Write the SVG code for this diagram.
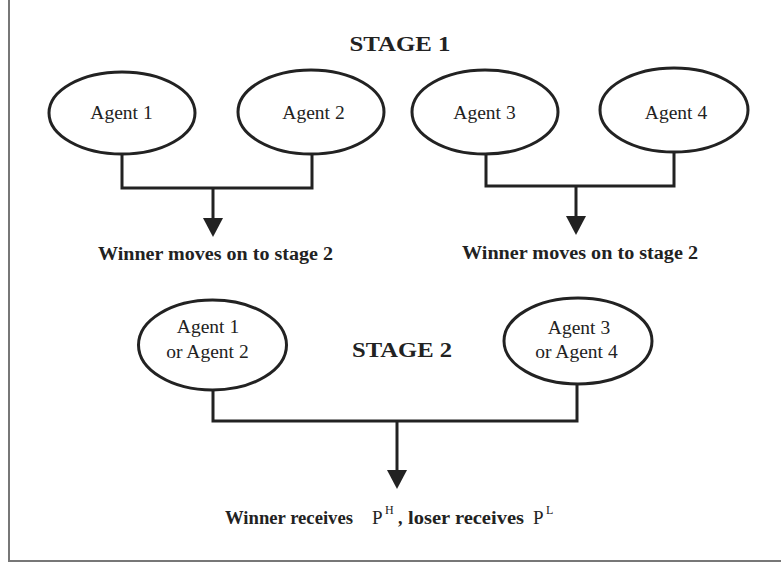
<svg xmlns="http://www.w3.org/2000/svg" width="781" height="565" viewBox="0 0 781 565">
<style>
.node{fill:#fff;stroke:#222;stroke-width:3}
.conn{fill:none;stroke:#222;stroke-width:3}
.lbl{font-family:"Liberation Serif",serif;font-size:19.5px;fill:#222;text-anchor:middle}
.bold{font-family:"Liberation Serif",serif;font-weight:bold;fill:#222}
.reg{font-family:"Liberation Serif",serif;font-weight:normal;fill:#222}
.frame{stroke:#777;stroke-width:2;fill:none}
</style>
<defs>
<marker id="arr" viewBox="0 0 19 20" refX="2" refY="10" markerWidth="19" markerHeight="20" markerUnits="userSpaceOnUse" orient="auto">
<path d="M0,0 L19,10 L0,20 z" fill="#222"/>
</marker>
</defs>
<rect width="781" height="565" fill="#fff"/>
<path class="frame" d="M9,0 V561 H781"/>
<text class="bold" x="400" y="51" font-size="21" text-anchor="middle" textLength="101" lengthAdjust="spacingAndGlyphs">STAGE  1</text>
<text class="bold" x="402" y="357" font-size="21" text-anchor="middle" textLength="100" lengthAdjust="spacingAndGlyphs">STAGE  2</text>
<g id="agent1"><ellipse class="node" cx="122" cy="113" rx="73" ry="41"/><text class="lbl" x="121.5" y="119">Agent 1</text></g>
<g id="agent2"><ellipse class="node" cx="311" cy="112" rx="73" ry="42"/><text class="lbl" x="313.5" y="119">Agent 2</text></g>
<g id="agent3"><ellipse class="node" cx="485" cy="112" rx="73" ry="42"/><text class="lbl" x="484.5" y="119">Agent 3</text></g>
<g id="agent4"><ellipse class="node" cx="674" cy="110" rx="74" ry="42"/><text class="lbl" x="676" y="119">Agent 4</text></g>
<g id="agent12"><ellipse class="node" cx="212.5" cy="345" rx="74" ry="45"/><text class="lbl" x="208" y="333">Agent 1</text><text class="lbl" x="207.5" y="358">or Agent 2</text></g>
<g id="agent34"><ellipse class="node" cx="578" cy="341" rx="74" ry="43"/><text class="lbl" x="579" y="334">Agent 3</text><text class="lbl" x="576.5" y="358">or Agent 4</text></g>
<g id="connectors">
<path class="conn" d="M122,154 V188 H312 V154"/>
<path class="conn" d="M213,188 V220" marker-end="url(#arr)"/>
<path class="conn" d="M486,154 V186 H674 V152"/>
<path class="conn" d="M576,186 V218" marker-end="url(#arr)"/>
<path class="conn" d="M213,390 V421 H577 V384"/>
<path class="conn" d="M397,421 V472" marker-end="url(#arr)"/>
</g>
<g id="labels">
<text class="bold" x="215.5" y="260" font-size="18" text-anchor="middle" textLength="235" lengthAdjust="spacingAndGlyphs">Winner moves on to stage 2</text>
<text class="bold" x="580" y="259" font-size="18" text-anchor="middle" textLength="236" lengthAdjust="spacingAndGlyphs">Winner moves on to stage 2</text>
<text y="524" font-size="18"><tspan class="bold" x="225" textLength="128" lengthAdjust="spacingAndGlyphs">Winner receives</tspan><tspan class="reg" x="372" font-size="19">P</tspan><tspan class="reg" x="385" y="514" font-size="12">H</tspan><tspan class="bold" x="398" y="524">,</tspan><tspan class="bold" x="408" textLength="116" lengthAdjust="spacingAndGlyphs">loser receives</tspan><tspan class="reg" x="533" font-size="19">P</tspan><tspan class="reg" x="546" y="514" font-size="12">L</tspan></text>
</g>
</svg>
